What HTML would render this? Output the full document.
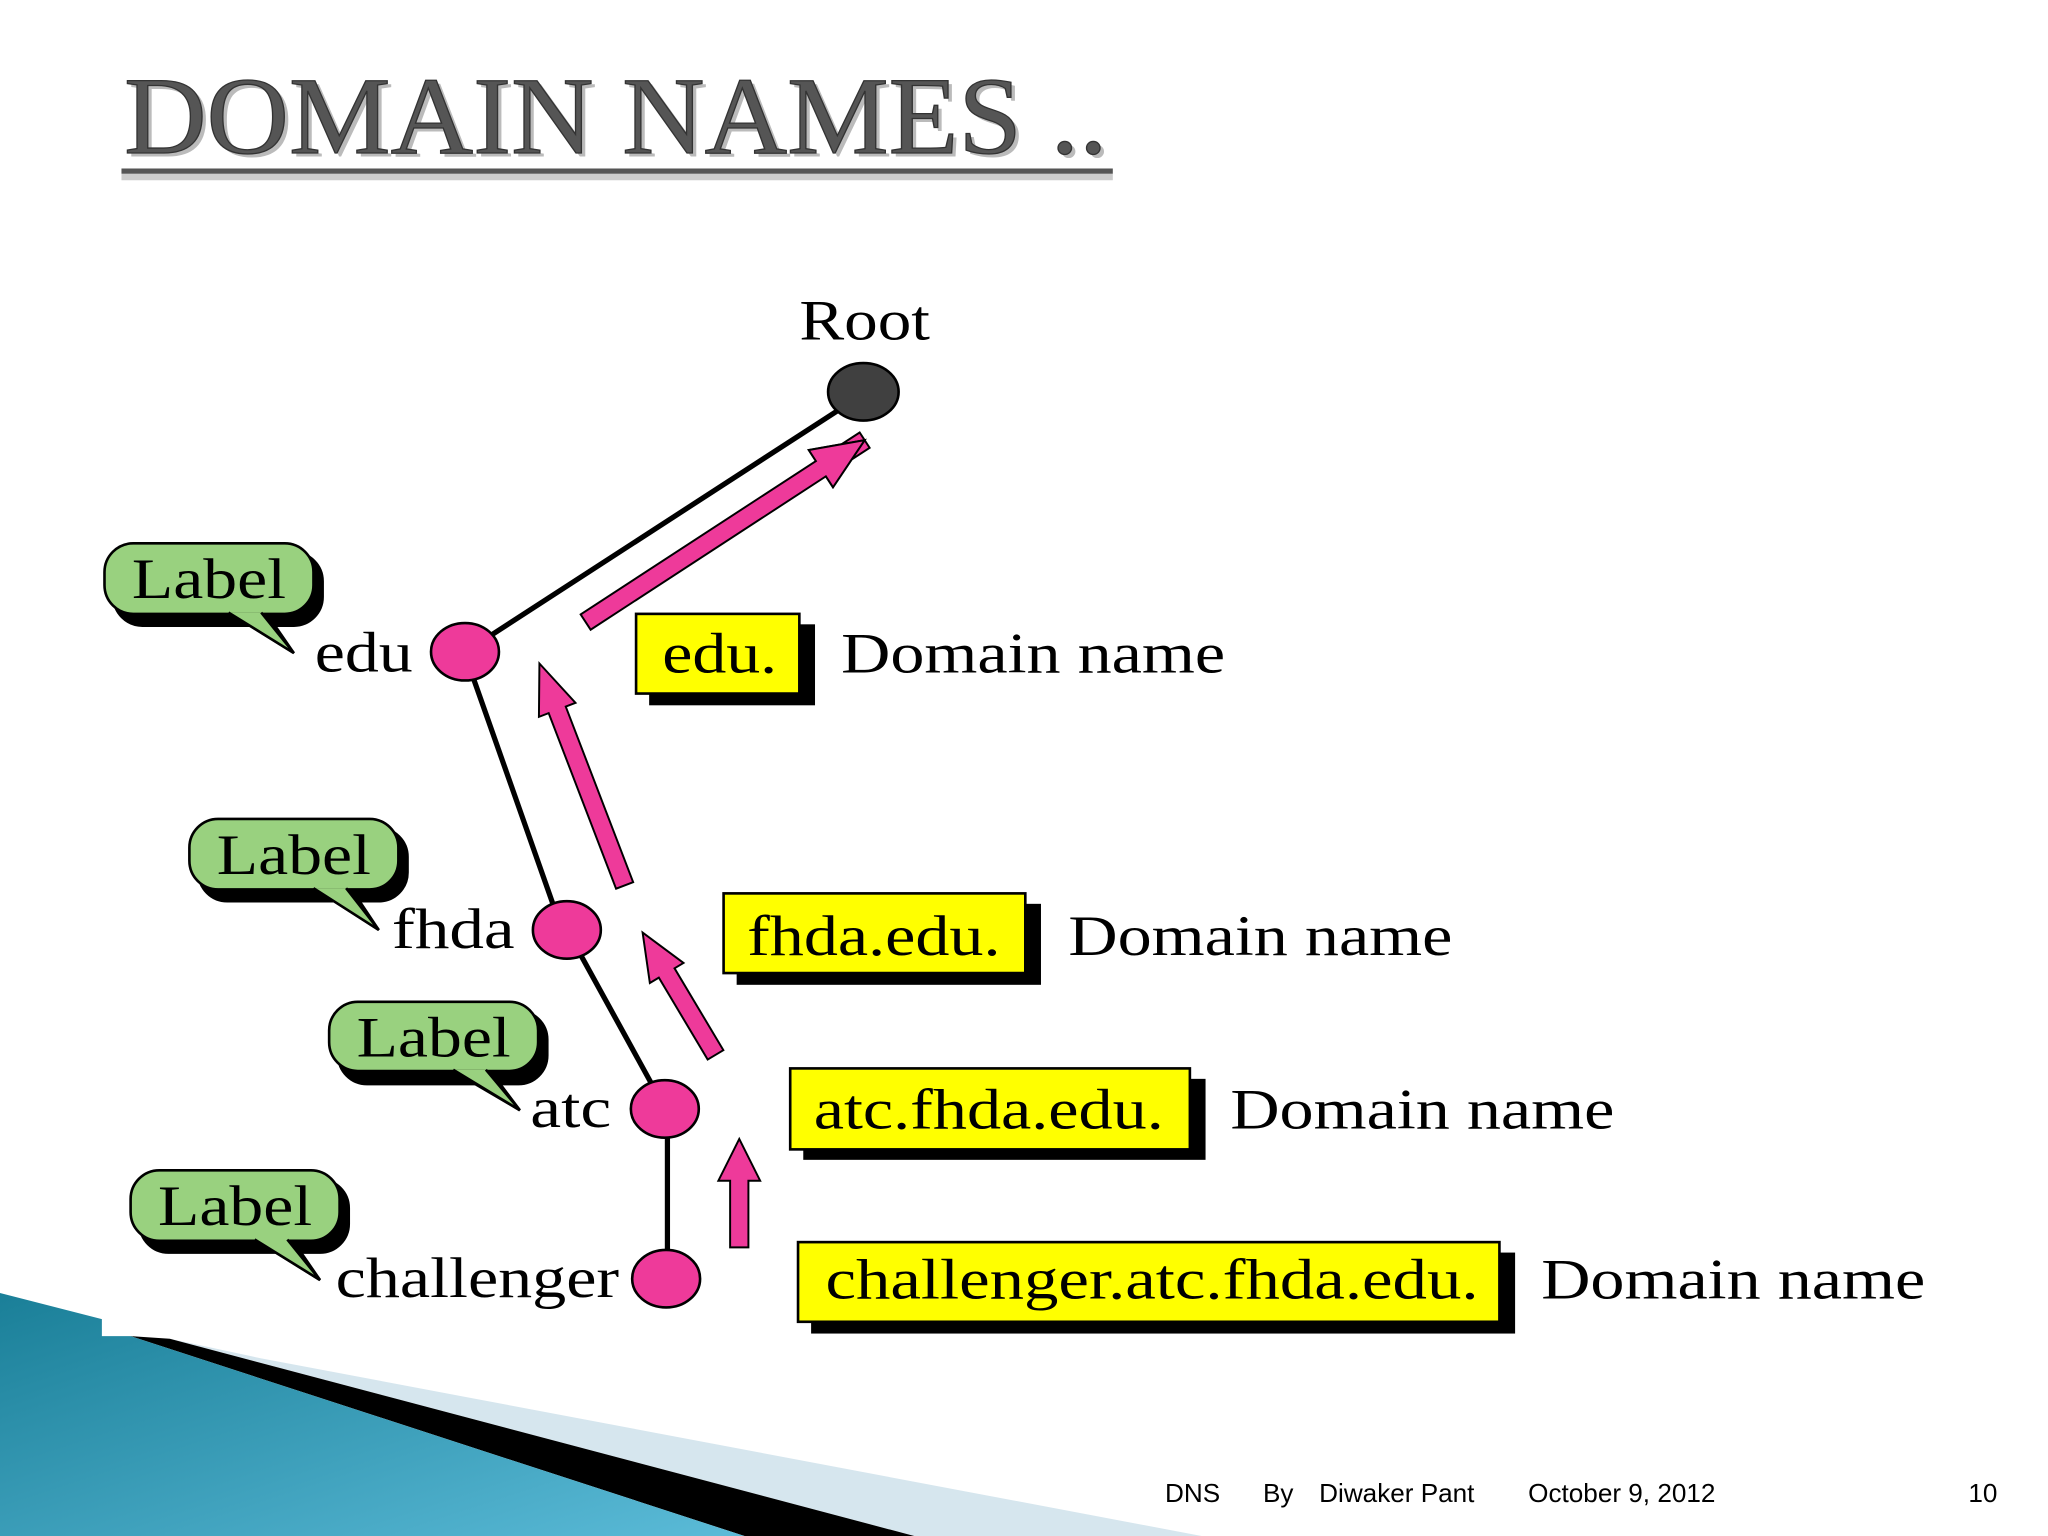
<!DOCTYPE html>
<html><head><meta charset="utf-8"><style>
html,body{margin:0;padding:0;background:#fff;}
svg{display:block;}
text{font-family:"Liberation Serif",serif;}
</style></head><body>
<svg width="2048" height="1536" viewBox="0 0 1568 1176" xmlns="http://www.w3.org/2000/svg">
<rect width="1568" height="1176" fill="#fff"/>
<!-- bottom-left decoration -->
<defs><linearGradient id="tg" x1="0" y1="0" x2="1" y2="1"><stop offset="0" stop-color="#1a7f98"/><stop offset="1" stop-color="#5bbbd8"/></linearGradient></defs>
<polygon points="130,1025 200,1040 920,1176 700,1176" fill="#d6e6ee"/>
<polygon points="100,1023 130,1025 700,1176 570,1176" fill="#000"/>
<polygon points="0,990 78,1010 78,1023 100,1023 570,1176 0,1176" fill="url(#tg)"/>
<!-- title -->
<text x="98" y="120" font-size="84" fill="#bbb" textLength="753" lengthAdjust="spacingAndGlyphs">DOMAIN NAMES ..</text>
<text x="95" y="117" font-size="84" fill="#555" stroke="#333" stroke-width="1" textLength="753" lengthAdjust="spacingAndGlyphs">DOMAIN NAMES ..</text>
<rect x="93" y="133" width="759" height="5" fill="#ccc"/>
<rect x="93" y="129" width="759" height="4" fill="#555"/>
<!-- lines -->
<g stroke="#000" stroke-width="4">
<line x1="645" y1="312" x2="375" y2="487"/>
<line x1="362" y1="518" x2="424" y2="694"/>
<line x1="444" y1="730" x2="499" y2="830"/>
<line x1="511" y1="868" x2="511" y2="960"/>
</g>
<!-- nodes -->
<ellipse cx="661" cy="300" rx="27" ry="22" fill="#404040" stroke="#000" stroke-width="2"/>
<g fill="#ee3a9a" stroke="#000" stroke-width="2">
<ellipse cx="356" cy="499" rx="26" ry="22"/>
<ellipse cx="434" cy="712" rx="26" ry="22"/>
<ellipse cx="509" cy="849" rx="26" ry="22"/>
<ellipse cx="510" cy="979" rx="26" ry="22"/>
</g>
<!-- pink arrows -->
<g fill="#ee3a9a" stroke="#000" stroke-width="1.5">
<polygon points="0,-6 -30,-6 -30,-14 0,0 -30,14 -30,6 0,6" transform="translate(662,337) rotate(-33) scale(1) translate(0,0)" style="display:none"/>
</g>
<g fill="#ee3a9a" stroke="#000" stroke-width="1.5">
<path d="M0,-7 L-40,-7 L-40,-17 L0,0 L-40,17 L-40,7 L0,7 Z" transform="translate(662,337) rotate(-33)"/>
<path d="M0,-7 L-215,-7 L-215,7 L-40,7" fill="none" stroke="none"/>
</g>
<!-- arrow 1 body -->
<g fill="#ee3a9a" stroke="#000" stroke-width="1.5">
<g transform="translate(662,337) rotate(146.9)">
<polygon points="0,0 40,-17 40,-7 255,-7 255,7 40,7 40,17"/>
</g>
<g transform="translate(413,508) rotate(69)">
<polygon points="0,0 38,-15 38,-7 182,-7 182,7 38,7 38,15"/>
</g>
<g transform="translate(492,714) rotate(59.2)">
<polygon points="0,0 36,-15 36,-7 109,-7 109,7 36,7 36,15"/>
</g>
<g transform="translate(566,872) rotate(90)">
<polygon points="0,0 32,-16 32,-7 83,-7 83,7 32,7 32,16"/>
</g>
</g>
<!-- yellow boxes -->
<g>
<rect x="497" y="478" width="127" height="62" fill="#000"/>
<rect x="487" y="470" width="125" height="61" fill="#ffff00" stroke="#000" stroke-width="2"/>
<rect x="564" y="692" width="233" height="62" fill="#000"/>
<rect x="554" y="684" width="231" height="61" fill="#ffff00" stroke="#000" stroke-width="2"/>
<rect x="615" y="826" width="308" height="62" fill="#000"/>
<rect x="605" y="818" width="306" height="62" fill="#ffff00" stroke="#000" stroke-width="2"/>
<rect x="621" y="959" width="539" height="62" fill="#000"/>
<rect x="611" y="951" width="537" height="61" fill="#ffff00" stroke="#000" stroke-width="2"/>
</g>
<g font-size="44" fill="#000">
<text x="507" y="515" textLength="88" lengthAdjust="spacingAndGlyphs">edu.</text>
<text x="572" y="731" textLength="194" lengthAdjust="spacingAndGlyphs">fhda.edu.</text>
<text x="623" y="864" textLength="268" lengthAdjust="spacingAndGlyphs">atc.fhda.edu.</text>
<text x="632" y="994" textLength="500" lengthAdjust="spacingAndGlyphs">challenger.atc.fhda.edu.</text>
<text x="644" y="515" textLength="294" lengthAdjust="spacingAndGlyphs">Domain name</text>
<text x="818" y="731" textLength="294" lengthAdjust="spacingAndGlyphs">Domain name</text>
<text x="942" y="864" textLength="294" lengthAdjust="spacingAndGlyphs">Domain name</text>
<text x="1180" y="994" textLength="294" lengthAdjust="spacingAndGlyphs">Domain name</text>
<text x="612" y="260" textLength="100" lengthAdjust="spacingAndGlyphs">Root</text>
<text x="241" y="514" textLength="75" lengthAdjust="spacingAndGlyphs">edu</text>
<text x="300" y="726" textLength="94" lengthAdjust="spacingAndGlyphs">fhda</text>
<text x="406" y="863" textLength="62" lengthAdjust="spacingAndGlyphs">atc</text>
<text x="257" y="993" textLength="217" lengthAdjust="spacingAndGlyphs">challenger</text>
</g>
<!-- label bubbles -->
<g stroke="#000" stroke-width="2">
<g transform="translate(80,416)">
<rect x="7" y="7" width="160" height="56" rx="22" fill="#000"/>
<path d="M100,56 L145,84 L125,55 Z" fill="#000"/>
<rect x="0" y="0" width="160" height="54" rx="22" fill="#99d17f"/>
<path d="M95,53 L145,84 L120,53" fill="#99d17f"/>
<text x="80" y="42" font-size="44" text-anchor="middle" stroke="none" fill="#000" textLength="118" lengthAdjust="spacingAndGlyphs">Label</text>
</g>
<g transform="translate(145,627)">
<rect x="7" y="7" width="160" height="56" rx="22" fill="#000"/>
<path d="M100,56 L145,85 L125,55 Z" fill="#000"/>
<rect x="0" y="0" width="160" height="54" rx="22" fill="#99d17f"/>
<path d="M95,53 L145,85 L120,53" fill="#99d17f"/>
<text x="80" y="42" font-size="44" text-anchor="middle" stroke="none" fill="#000" textLength="118" lengthAdjust="spacingAndGlyphs">Label</text>
</g>
<g transform="translate(252,767)">
<rect x="7" y="7" width="160" height="56" rx="22" fill="#000"/>
<path d="M100,56 L146,83 L125,55 Z" fill="#000"/>
<rect x="0" y="0" width="160" height="53" rx="22" fill="#99d17f"/>
<path d="M95,52 L146,83 L120,52" fill="#99d17f"/>
<text x="80" y="42" font-size="44" text-anchor="middle" stroke="none" fill="#000" textLength="118" lengthAdjust="spacingAndGlyphs">Label</text>
</g>
<g transform="translate(100,896)">
<rect x="7" y="7" width="160" height="56" rx="22" fill="#000"/>
<path d="M100,56 L145,84 L125,55 Z" fill="#000"/>
<rect x="0" y="0" width="160" height="54" rx="22" fill="#99d17f"/>
<path d="M95,53 L145,84 L120,53" fill="#99d17f"/>
<text x="80" y="42" font-size="44" text-anchor="middle" stroke="none" fill="#000" textLength="118" lengthAdjust="spacingAndGlyphs">Label</text>
</g>
</g>
<!-- footer -->
<g font-size="20" fill="#000" style="font-family:'Liberation Sans',sans-serif">
<text x="892" y="1150" style="font-family:'Liberation Sans',sans-serif">DNS</text>
<text x="967" y="1150" style="font-family:'Liberation Sans',sans-serif">By</text>
<text x="1010" y="1150" style="font-family:'Liberation Sans',sans-serif">Diwaker Pant</text>
<text x="1170" y="1150" style="font-family:'Liberation Sans',sans-serif">October 9, 2012</text>
<text x="1507" y="1150" style="font-family:'Liberation Sans',sans-serif">10</text>
</g>
</svg>
</body></html>
